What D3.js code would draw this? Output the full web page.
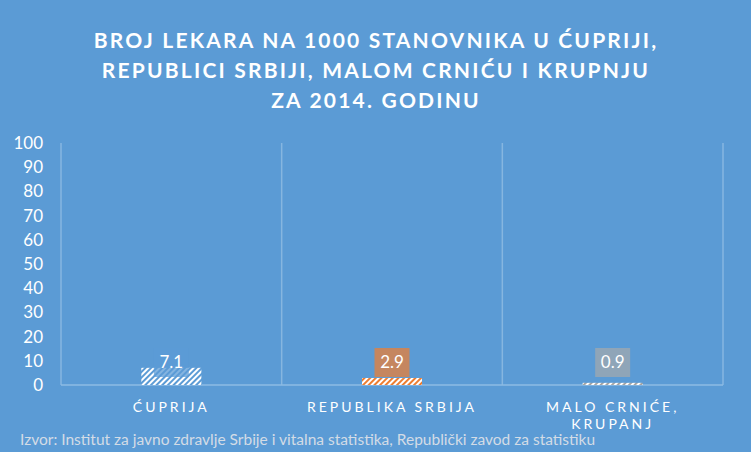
<!DOCTYPE html>
<html>
<head>
<meta charset="utf-8">
<script src="https://cdn.jsdelivr.net/npm/d3@7.9.0/dist/d3.min.js"></script>
<style>
  body { margin: 0; background: #5B9BD5; }
  svg { display: block; }
</style>
</head>
<body>
<svg width="751" height="452"></svg>
<script>
// data
const categories = ['ĆUPRIJA', 'REPUBLIKA SRBIJA', 'MALO CRNIĆE, KRUPANJ'];
const categoryLines = [['ĆUPRIJA'], ['REPUBLIKA SRBIJA'], ['MALO CRNIĆE,', 'KRUPANJ']];
const values = [7.1, 2.9, 0.9];
const yTicks = [0, 10, 20, 30, 40, 50, 60, 70, 80, 90, 100];
const titleLines = [
  'BROJ LEKARA NA 1000 STANOVNIKA U ĆUPRIJI,',
  'REPUBLICI SRBIJI, MALOM CRNIĆU I KRUPNJU',
  'ZA 2014. GODINU'
];
const sourceText = 'Izvor: Institut za javno zdravlje Srbije i vitalna statistika, Republički zavod za statistiku';

const bg = '#5B9BD5';
const barFg = ['#ffffff', '#ED7D31', '#A5A5A5'];
const barBg = [bg, '#ffffff', '#ffffff'];
const labelFill = ['rgba(91,155,213,0.75)', '#C5865F', '#8FA5B8'];

const svg = d3.select('svg');
const plotLeft = 61, plotRight = 723, plotTop = 143, plotBottom = 385;

svg.append('rect').attr('width', 751).attr('height', 452).attr('fill', bg);

// hatch patterns
const defs = svg.append('defs');
values.forEach((v, i) => {
  const p = defs.append('pattern')
    .attr('id', 'hatch' + i)
    .attr('patternUnits', 'userSpaceOnUse')
    .attr('width', 4).attr('height', 4)
    .attr('patternTransform', 'rotate(45)');
  p.append('rect').attr('width', 4).attr('height', 4).attr('fill', barBg[i]);
  p.append('rect').attr('width', 2).attr('height', 4).attr('fill', barFg[i]);
});

// title
svg.append('g').selectAll('text').data(titleLines).join('text')
  .attr('x', 376).attr('y', (d, i) => 48 + i * 30)
  .attr('text-anchor', 'middle')
  .attr('fill', '#fff')
  .attr('font-family', 'Lato, sans-serif')
  .attr('font-weight', 'bold')
  .attr('font-size', 21)
  .attr('letter-spacing', 2.2)
  .text(d => d);

const x = d3.scaleBand().domain(categories).range([plotLeft, plotRight])
  .paddingInner(0.728).paddingOuter(0.364);
const y = d3.scaleLinear().domain([0, 100]).range([plotBottom, plotTop]);

// vertical separators
const step = x.step();
svg.append('g').selectAll('line').data(d3.range(categories.length + 1)).join('line')
  .attr('x1', i => plotLeft + i * step).attr('x2', i => plotLeft + i * step)
  .attr('y1', plotTop).attr('y2', plotBottom)
  .attr('stroke', '#86B6E0').attr('stroke-width', 1.5);

// baseline
svg.append('line')
  .attr('x1', plotLeft).attr('x2', plotRight).attr('y1', plotBottom).attr('y2', plotBottom)
  .attr('stroke', '#8DBBE3').attr('stroke-width', 1.5);

// y axis labels
const yAxis = d3.axisLeft(y).tickValues(yTicks).tickSize(0).tickPadding(18);
const ya = svg.append('g').attr('transform', `translate(${plotLeft},0)`).call(yAxis);
ya.select('.domain').remove();
ya.selectAll('text')
  .attr('fill', '#fff')
  .attr('font-family', 'Lato, sans-serif')
  .attr('font-size', 17);

// bars
svg.append('g').selectAll('rect').data(values).join('rect')
  .attr('x', (d, i) => x(categories[i]))
  .attr('y', d => y(d))
  .attr('width', x.bandwidth())
  .attr('height', d => plotBottom - y(d))
  .attr('fill', (d, i) => `url(#hatch${i})`);

// data labels
const lg = svg.append('g').selectAll('g').data(values).join('g')
  .attr('transform', (d, i) => `translate(${x(categories[i]) + x.bandwidth() / 2},362)`);
lg.append('rect')
  .attr('x', -17.5).attr('y', -14).attr('width', 35).attr('height', 29)
  .attr('fill', (d, i) => labelFill[i]);
lg.append('text')
  .attr('text-anchor', 'middle').attr('dy', '0.35em')
  .attr('fill', '#fff')
  .attr('font-family', 'Lato, sans-serif')
  .attr('font-size', 17)
  .text(d => d.toFixed(1));

// category labels
const cg = svg.append('g').selectAll('text').data(categories).join('text')
  .attr('x', d => x(d) + x.bandwidth() / 2)
  .attr('text-anchor', 'middle')
  .attr('fill', '#fff')
  .attr('font-family', 'Lato, sans-serif')
  .attr('font-size', 14)
  .attr('letter-spacing', 3);
cg.selectAll('tspan').data((d, i) => categoryLines[i]).join('tspan')
  .attr('x', function () { return d3.select(this.parentNode).attr('x'); })
  .attr('y', (d, j) => 412 + j * 17)
  .text(d => d);

// source
svg.append('text')
  .attr('x', 20).attr('y', 445)
  .attr('fill', '#D3DCE6')
  .attr('font-family', 'Lato, sans-serif')
  .attr('font-size', 15.5)
  .text(sourceText);
</script>
</body>
</html>
